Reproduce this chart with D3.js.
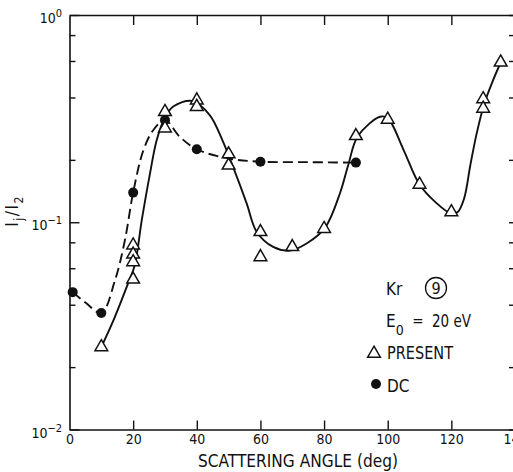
<!DOCTYPE html>
<html>
<head>
<meta charset="utf-8">
<script src="https://cdn.jsdelivr.net/npm/d3@7"></script>
<style>
body { margin: 0; background: #fff; }
text { font-family: "Liberation Sans Narrow", "DejaVu Sans Condensed", "Liberation Sans", sans-serif; fill: #111; }
</style>
</head>
<body>
<div id="chart"></div>
<script>
var presentAngle = [10, 20, 20, 20, 20, 30, 30, 40, 40, 50, 50, 60, 60, 70, 80, 90, 100, 110, 120, 130, 130, 135.5];
var presentRatio = [0.025, 0.0774, 0.070, 0.0643, 0.053, 0.341, 0.284, 0.388, 0.361, 0.213, 0.188, 0.0898, 0.068, 0.076, 0.093, 0.261, 0.313, 0.152, 0.112, 0.393, 0.354, 0.591];
var dcAngle = [1, 10, 20, 30, 40, 60, 90];
var dcRatio = [0.046, 0.0365, 0.139, 0.311, 0.225, 0.196, 0.194];

// hand drawn curves through the data, knots
var presentCurveAngle = [10, 13.8, 18.4, 20.5, 22.7, 25.3, 27.4, 30, 32.6, 38.5, 44, 48, 52, 55.7, 58.8, 64, 69.3, 74.5, 80.3, 85, 87.6, 90.6, 97.6, 100, 105, 110, 115, 120, 122, 124, 126, 128, 130.4, 133, 135.5];
var presentCurveRatio = [0.025, 0.0336, 0.0507, 0.062, 0.102, 0.172, 0.249, 0.32, 0.362, 0.385, 0.33, 0.25, 0.175, 0.123, 0.09, 0.076, 0.073, 0.079, 0.094, 0.138, 0.189, 0.26, 0.323, 0.318, 0.223, 0.152, 0.125, 0.11, 0.112, 0.13, 0.19, 0.27, 0.375, 0.48, 0.59];
var dcCurveAngle = [1, 5, 10, 14.3, 17.4, 20, 23.2, 26.3, 30, 34.7, 40, 50, 60, 75, 90];
var dcCurveRatio = [0.046, 0.041, 0.0365, 0.0525, 0.0818, 0.139, 0.222, 0.278, 0.311, 0.258, 0.225, 0.203, 0.196, 0.195, 0.194];

var xTickValues = [0, 20, 40, 60, 80, 100, 120, 140];
var yMajor = [1, 0.1, 0.01];
var yMinor = [0.8, 0.6, 0.4, 0.2, 0.08, 0.06, 0.04, 0.02];

var width = 513, height = 472;

var svg = d3.select("#chart")
    .append("svg")
    .attr("width", width)
    .attr("height", height);

var x = d3.scaleLinear().domain([0, 140]).range([69.5, 515]);
var y = d3.scaleLog().domain([0.01, 1]).range([429.5, 15]);

function styleAxis(g) {
    g.selectAll("path.domain").attr("stroke", "#111").attr("stroke-width", 1.6);
    g.selectAll(".tick line").attr("stroke", "#111").attr("stroke-width", 1.4);
}

// bottom axis, ticks pointing inward
var xAxisCall = d3.axisBottom(x)
    .tickValues(xTickValues)
    .tickSizeInner(-9)
    .tickSizeOuter(0)
    .tickPadding(5);
var gx = svg.append("g")
    .attr("transform", "translate(0," + y(0.01) + ")")
    .call(xAxisCall);
gx.selectAll("text").attr("font-size", "14px");
gx.selectAll(".tick").filter(function(d) { return d === 0; }).select("line").remove();
styleAxis(gx);

// top axis
var gTop = svg.append("g")
    .attr("transform", "translate(0," + y(1) + ")")
    .call(d3.axisTop(x).tickValues([20, 40, 60, 80, 100, 120]).tickSizeInner(-10).tickSizeOuter(0).tickFormat(""));
styleAxis(gTop);

// left axis
var gy = svg.append("g")
    .attr("transform", "translate(" + x(0) + ",0)")
    .call(d3.axisLeft(y).tickValues(yMajor).tickSizeInner(-10).tickSizeOuter(0).tickFormat(""));
styleAxis(gy);
var gyMinor = svg.append("g")
    .attr("transform", "translate(" + x(0) + ",0)")
    .call(d3.axisLeft(y).tickValues(yMinor).tickSizeInner(-6).tickSizeOuter(0).tickFormat(""));
gyMinor.select("path.domain").remove();
styleAxis(gyMinor);

// right axis (falls just outside the picture)
var gRight = svg.append("g")
    .attr("transform", "translate(" + x(140) + ",0)")
    .call(d3.axisRight(y).tickValues(yMajor.concat(yMinor)).tickSizeInner(-6).tickSizeOuter(0).tickFormat(""));
styleAxis(gRight);

// y tick labels 10^n
yMajor.forEach(function(d) {
    var t = svg.append("text")
        .attr("x", 62)
        .attr("y", y(d) + 8)
        .attr("text-anchor", "end")
        .attr("font-size", "14px");
    t.append("tspan").text("10");
    t.append("tspan")
        .attr("dy", -6)
        .attr("font-size", "11px")
        .text(d3.format("d")(Math.round(Math.log10(d))).replace("-", "\u2212"));
});

// fit curves
var line = d3.line()
    .x(function(d) { return x(d[0]); })
    .y(function(d) { return y(d[1]); })
    .curve(d3.curveCatmullRom.alpha(0.5));

svg.append("path")
    .datum(d3.zip(presentCurveAngle, presentCurveRatio))
    .attr("d", line)
    .attr("fill", "none")
    .attr("stroke", "#111")
    .attr("stroke-width", 1.9);

svg.append("path")
    .datum(d3.zip(dcCurveAngle, dcCurveRatio))
    .attr("d", line)
    .attr("fill", "none")
    .attr("stroke", "#111")
    .attr("stroke-width", 1.9)
    .attr("stroke-dasharray", "10,5");

// DC points
svg.selectAll("circle.dc")
    .data(d3.zip(dcAngle, dcRatio))
    .enter()
    .append("circle")
    .attr("class", "dc")
    .attr("cx", function(d) { return x(d[0]); })
    .attr("cy", function(d) { return y(d[1]); })
    .attr("r", 5)
    .attr("fill", "#111");

// PRESENT points
var tri = d3.symbol().type(d3.symbolTriangle).size(70);
svg.selectAll("path.present")
    .data(d3.zip(presentAngle, presentRatio))
    .enter()
    .append("path")
    .attr("class", "present")
    .attr("d", tri)
    .attr("transform", function(d) { return "translate(" + x(d[0]) + "," + y(d[1]) + ")"; })
    .attr("fill", "#fff")
    .attr("stroke", "#111")
    .attr("stroke-width", 1.5);

// x label
svg.append("text")
    .attr("x", 298)
    .attr("y", 467)
    .attr("text-anchor", "middle")
    .attr("font-size", "17px")
    .attr("textLength", 200)
    .attr("lengthAdjust", "spacingAndGlyphs")
    .text("SCATTERING ANGLE (deg)");

// y label I_j / I_2
var yl = svg.append("text")
    .attr("transform", "translate(18,211) rotate(-90)")
    .attr("text-anchor", "middle")
    .attr("font-size", "17px")
    .attr("letter-spacing", "1.5px");
yl.append("tspan").text("I");
yl.append("tspan").attr("dy", 5).attr("font-size", "12px").text("j");
yl.append("tspan").attr("dy", -5).text("/");
yl.append("tspan").text("I");
yl.append("tspan").attr("dy", 5).attr("font-size", "12px").text("2");

// annotation block
svg.append("text").attr("x", 386).attr("y", 295).attr("font-size", "17px").text("Kr");
svg.append("circle").attr("cx", 436).attr("cy", 288).attr("r", 10.5)
    .attr("fill", "none").attr("stroke", "#111").attr("stroke-width", 1.3);
svg.append("text").attr("x", 436).attr("y", 294).attr("text-anchor", "middle").attr("font-size", "16px").text("9");

var e0 = svg.append("text").attr("x", 386).attr("y", 327).attr("font-size", "17px");
e0.append("tspan").text("E");
e0.append("tspan").attr("dy", 8).attr("font-size", "14px").text("0");
svg.append("text").attr("x", 418).attr("y", 326).attr("text-anchor", "middle").attr("font-size", "15px").text("=");
svg.append("text").attr("x", 432).attr("y", 327).attr("font-size", "17px")
    .attr("textLength", 39).attr("lengthAdjust", "spacingAndGlyphs").text("20 eV");

svg.append("path")
    .attr("d", tri)
    .attr("transform", "translate(374,353.5)")
    .attr("fill", "#fff")
    .attr("stroke", "#111")
    .attr("stroke-width", 1.5);
svg.append("text").attr("x", 387).attr("y", 359).attr("font-size", "17px")
    .attr("textLength", 66).attr("lengthAdjust", "spacingAndGlyphs").text("PRESENT");

svg.append("circle").attr("cx", 376).attr("cy", 384).attr("r", 5).attr("fill", "#111");
svg.append("text").attr("x", 387).attr("y", 392).attr("font-size", "17px").text("DC");
</script>
</body>
</html>
